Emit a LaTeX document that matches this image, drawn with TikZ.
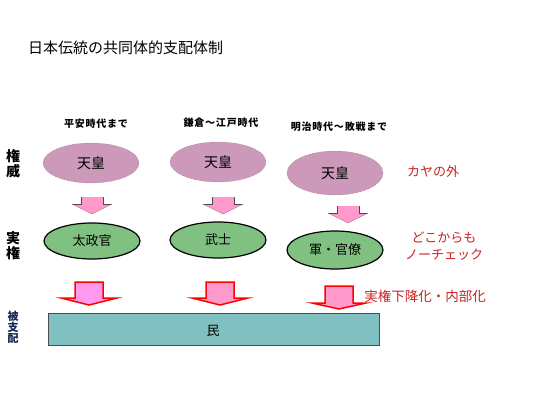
\documentclass[tikz,border=0pt]{standalone}
\usepackage{fontspec}
\newfontfamily\jp{Noto Sans CJK JP}
\newfontfamily\jpspaced{Noto Sans CJK JP}[LetterSpace=8]
\usetikzlibrary{shapes.geometric}
\definecolor{authpink}{RGB}{204,153,187}
\definecolor{realgreen}{RGB}{128,192,128}
\definecolor{peopleteal}{RGB}{128,192,192}
\definecolor{arrpink}{RGB}{255,153,204}
\definecolor{arrviolet}{RGB}{255,153,238}
\definecolor{redtext}{RGB}{204,34,34}
\definecolor{navylabel}{RGB}{20,40,80}
\tikzset{
  auth/.style={ellipse, fill=authpink, draw=authpink!60!black, densely dotted, line width=0.4pt, minimum width=96pt, minimum height=40pt, font=\jp\fontsize{14}{16}\selectfont, inner sep=0pt},
  real/.style={ellipse, fill=realgreen, draw=black, line width=1.2pt, minimum width=96pt, minimum height=36pt, font=\jp\fontsize{13}{15}\selectfont, inner sep=0pt},
  era/.style={font=\jpspaced\bfseries\fontsize{10}{12}\selectfont, inner sep=0pt},
  side/.style={font=\jp\bfseries\fontsize{14}{15}\selectfont, align=center, inner sep=0pt},
  note/.style={font=\jp\fontsize{13}{17}\selectfont, text=redtext, inner sep=0pt, align=center},
  bigarr/.style={draw=red, line width=1.5pt, line join=miter},
}
\newcommand\smallarrow[3]{% x, top y, tip y
  \fill[arrpink] (#1-11,#2) -- (#1+11,#2) -- (#1+11,#2+7) -- (#1+20,#2+7) -- (#1,#3) -- (#1-20,#2+7) -- (#1-11,#2+7) -- cycle;
  \draw[black!70, line width=0.6pt] (#1-11,#2) -- (#1-11,#2+7) -- (#1-20,#2+7);
  \draw[black!70, line width=0.6pt] (#1+11,#2) -- (#1+11,#2+7) -- (#1+20,#2+7);
  \draw[arrpink!70!black, line width=0.4pt] (#1-20,#2+7) -- (#1,#3) -- (#1+20,#2+7);
}
\newcommand\bigarrow[7]{% x, top y, shaft half, head half, head y, tip y, color
  \filldraw[bigarr, fill=#7] (#1-#3,#2) -- (#1+#3,#2) -- (#1+#3,#5) -- (#1+#4,#5) -- (#1,#6) -- (#1-#4,#5) -- (#1-#3,#5) -- cycle;
}
\begin{document}
\begin{tikzpicture}[x=1pt,y=-1pt]
\useasboundingbox[fill=white] (0,0) rectangle (545,409);
% title
\node[font=\jp\fontsize{15}{17}\selectfont, anchor=west, inner sep=0pt] (title) at (28,48) {日本伝統の共同体的支配体制};
% era labels
\node[era] (era1) at (96,124) {平安時代まで};
\node[era] (era2) at (221,123) {鎌倉～江戸時代};
\node[era] (era3) at (339,127) {明治時代～敗戦まで};
% side labels
\node[side] (s1) at (13,164) {権\\威};
\node[side] (s2) at (13,246) {実\\権};
\node[side, font=\jp\bfseries\fontsize{11}{11}\selectfont, text=navylabel] (s3) at (13,327) {被\\支\\配};
% authority ellipses
\node[auth] (a1) at (91,163) {天皇};
\node[auth] (a2) at (218,162) {天皇};
\node[auth, minimum height=44pt] (a3) at (335,173) {天皇};
% real power ellipses
\node[real] (r1) at (92,241) {太政官};
\node[real] (r2) at (218,240) {武士};
\node[real, minimum height=38pt] (r3) at (335,250) {軍・官僚};
% people
\node[fill=peopleteal, draw=black!70, line width=0.8pt, minimum width=331pt, minimum height=32pt, anchor=north west, inner sep=0pt] (people) at (48,313) {};
\node[font=\jp\fontsize{13}{15}\selectfont, inner sep=0pt] (min) at (213,331) {民};
% notes
\node[note] (n1) at (433,172) {カヤの外};
\node[note] (n2) at (444,246) {どこからも\\ノーチェック};
\node[note, font=\jp\fontsize{13.5}{15}\selectfont] (n3) at (425,296) {実権下降化・内部化};
% small arrows authority -> real power
\smallarrow{92}{197}{214}
\smallarrow{223}{197}{214}
\smallarrow{348}{206}{223}
% big arrows real power -> people
\bigarrow{89}{282}{14}{28}{298}{305}{arrviolet}
\bigarrow{220}{282}{14}{28}{298}{305}{arrpink}
\bigarrow{339}{286}{14}{27}{303}{309}{arrpink}
\end{tikzpicture}
\end{document}
